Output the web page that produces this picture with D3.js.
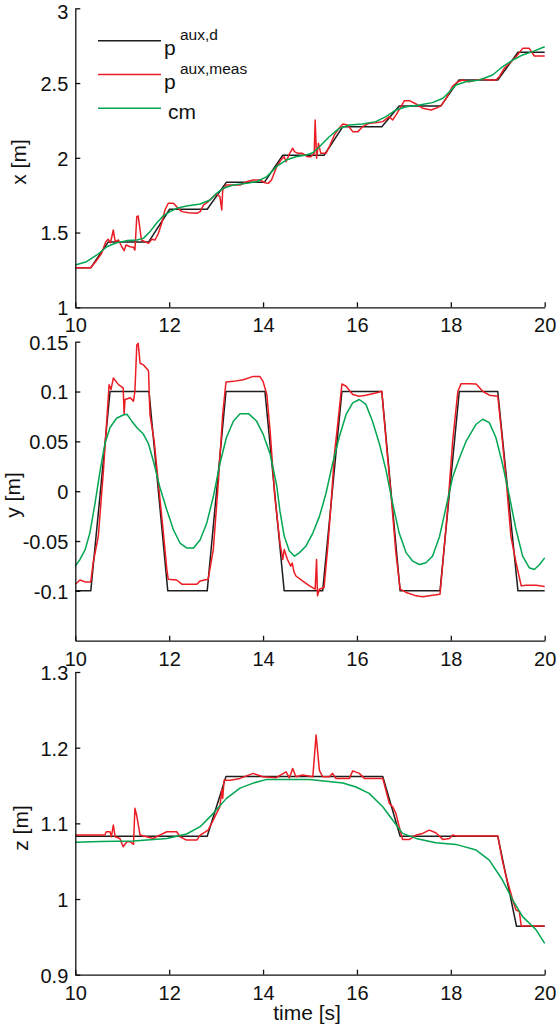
<!DOCTYPE html>
<html lang="en">
<head>
<meta charset="utf-8">
<title>aux position tracking</title>
<style>
  body { margin: 0; background: #fff; }
  svg { display: block; }
</style>
</head>
<body>
<svg id="chart"></svg>
<script src="https://d3js.org/d3.v7.min.js"></script>
<script>
// ---- data: [time s, value m] ----
const timeTicks = [10, 12, 14, 16, 18, 20];

const xTickValues = [1, 1.5, 2, 2.5, 3];
const xTickLabels = ['1', '1.5', '2', '2.5', '3'];
const yTickValues = [-0.1, -0.05, 0, 0.05, 0.1, 0.15];
const yTickLabels = ['-0.1', '-0.05', '0', '0.05', '0.1', '0.15'];
const zTickValues = [0.9, 1, 1.1, 1.2, 1.3];
const zTickLabels = ['0.9', '1', '1.1', '1.2', '1.3'];

const xDesired = [[10,1.265],[10.33,1.265],[10.70,1.436],[11.56,1.436],[12.01,1.656],[12.81,1.656],[13.22,1.837],
  [14.03,1.837],[14.42,2.017],[15.30,2.017],[15.70,2.208],[16.53,2.208],[16.90,2.347],[17.79,2.347],[18.17,2.520],
  [19.00,2.520],[19.43,2.706],[20,2.706]];
const xMeasured = [[10,1.265],[10.33,1.265],[10.46,1.316],[10.56,1.361],[10.65,1.439],[10.70,1.455],[10.75,1.432],
  [10.81,1.517],[10.85,1.439],[10.92,1.450],[10.99,1.405],[11.04,1.379],[11.08,1.417],[11.17,1.405],[11.24,1.401],
  [11.27,1.383],[11.31,1.606],[11.34,1.611],[11.38,1.517],[11.41,1.450],[11.48,1.439],[11.56,1.428],[11.63,1.455],
  [11.70,1.450],[11.77,1.495],[11.84,1.562],[11.91,1.651],[11.98,1.696],[12.09,1.696],[12.19,1.662],[12.27,1.640],
  [12.41,1.633],[12.59,1.629],[12.66,1.640],[12.73,1.684],[12.83,1.707],[12.94,1.740],[13.01,1.758],[13.08,1.740],
  [13.12,1.651],[13.14,1.785],[13.22,1.818],[13.51,1.818],[13.65,1.840],[13.79,1.852],[13.93,1.852],[14.04,1.833],
  [14.11,1.829],[14.18,1.852],[14.29,1.940],[14.38,1.985],[14.45,2.007],[14.49,1.974],[14.56,2.025],[14.63,2.064],
  [14.67,2.041],[14.74,2.030],[14.84,2.030],[14.95,2.007],[15.02,2.007],[15.09,2.030],[15.11,2.253],[15.14,1.997],
  [15.18,2.097],[15.23,2.030],[15.34,2.030],[15.41,2.074],[15.52,2.153],[15.62,2.197],[15.70,2.226],[15.80,2.219],
  [15.91,2.175],[16.02,2.175],[16.12,2.208],[16.26,2.231],[16.40,2.235],[16.55,2.242],[16.69,2.275],[16.76,2.253],
  [16.83,2.286],[16.94,2.342],[17.01,2.382],[17.12,2.382],[17.26,2.360],[17.40,2.331],[17.58,2.320],[17.68,2.331],
  [17.79,2.347],[17.90,2.398],[18.04,2.480],[18.15,2.509],[18.25,2.520],[18.39,2.509],[18.54,2.520],[18.68,2.525],
  [18.82,2.520],[18.96,2.520],[19.03,2.542],[19.14,2.599],[19.25,2.632],[19.32,2.654],[19.39,2.676],[19.53,2.732],
  [19.67,2.732],[19.78,2.681],[20,2.681]];
const xCom = [[10,1.283],[10.24,1.305],[10.46,1.350],[10.67,1.405],[10.88,1.432],[11.10,1.446],[11.31,1.450],
  [11.45,1.461],[11.59,1.506],[11.73,1.562],[11.87,1.611],[12.02,1.640],[12.16,1.662],[12.37,1.678],[12.66,1.691],
  [12.87,1.718],[13.01,1.763],[13.15,1.796],[13.37,1.818],[13.65,1.829],[13.86,1.840],[14.08,1.874],[14.22,1.918],
  [14.30,1.945],[14.49,1.985],[14.70,2.007],[14.92,2.019],[15.06,2.034],[15.20,2.074],[15.41,2.141],[15.62,2.197],
  [15.84,2.219],[16.12,2.226],[16.40,2.242],[16.62,2.275],[16.83,2.320],[17.05,2.342],[17.33,2.353],[17.61,2.369],
  [17.83,2.398],[17.97,2.442],[18.11,2.487],[18.32,2.509],[18.61,2.520],[18.89,2.554],[19.10,2.609],[19.32,2.654],
  [19.53,2.688],[19.74,2.710],[20,2.743]];

const yDesired = [[10,-0.1],[10.33,-0.1],[10.74,0.1],[11.57,0.1],[11.97,-0.1],[12.81,-0.1],[13.21,0.1],[14.04,0.1],
  [14.45,-0.1],[15.27,-0.1],[15.68,0.1],[16.53,0.1],[16.92,-0.1],[17.77,-0.1],[18.18,0.1],[19.0,0.1],[19.43,-0.1],[20,-0.1]];
const yMeasured = [[10,-0.0933],[10.10,-0.0891],[10.21,-0.0910],[10.33,-0.0910],[10.38,-0.0718],[10.49,-0.0454],
  [10.60,0.0209],[10.67,0.0705],[10.72,0.1069],[10.76,0.1020],[10.81,0.1135],[10.92,0.1069],[11.02,0.1036],
  [11.04,0.0772],[11.06,0.0920],[11.17,0.0937],[11.24,0.0904],[11.27,0.1003],[11.31,0.1466],[11.34,0.1483],
  [11.38,0.1284],[11.45,0.1268],[11.56,0.1208],[11.59,0.0772],[11.68,0.0506],[11.77,0.0076],[11.87,-0.0387],
  [11.95,-0.0785],[11.98,-0.0884],[12.16,-0.0891],[12.27,-0.0933],[12.59,-0.0933],[12.66,-0.0900],[12.83,-0.0884],
  [12.94,-0.0586],[13.05,0.0109],[13.14,0.0772],[13.21,0.1096],[13.37,0.1102],[13.58,0.1119],[13.79,0.1152],
  [13.93,0.1152],[14.0,0.1102],[14.08,0.0970],[14.15,0.0606],[14.25,-0.0056],[14.36,-0.0520],[14.42,-0.0685],
  [14.45,-0.0586],[14.52,-0.0685],[14.59,-0.0752],[14.62,-0.0720],[14.66,-0.0810],[14.70,-0.0851],[14.84,-0.0900],
  [14.99,-0.0950],[15.11,-0.0983],[15.14,-0.0685],[15.16,-0.1050],[15.20,-0.0983],[15.30,-0.0966],[15.38,-0.0553],
  [15.45,-0.0122],[15.52,0.0374],[15.59,0.0672],[15.68,0.1076],[15.77,0.1053],[15.91,0.0970],[16.05,0.0953],
  [16.19,0.0963],[16.40,0.0986],[16.53,0.1003],[16.56,0.0837],[16.62,0.0506],[16.73,-0.0056],[16.83,-0.0619],
  [16.92,-0.0983],[17.05,-0.1016],[17.26,-0.1050],[17.40,-0.1059],[17.61,-0.1043],[17.77,-0.1033],[17.83,-0.0718],
  [17.93,-0.0189],[18.04,0.0506],[18.15,0.1003],[18.22,0.1079],[18.39,0.1079],[18.54,0.1076],[18.68,0.1003],
  [18.82,0.0963],[19.0,0.0953],[19.07,0.0639],[19.18,0.0109],[19.28,-0.0454],[19.39,-0.0718],[19.50,-0.0950],
  [19.60,-0.0943],[19.82,-0.0943],[20,-0.0956]];
const yCom = [[10,-0.0752],[10.10,-0.0685],[10.21,-0.0586],[10.31,-0.0420],[10.42,-0.0122],[10.53,0.0209],
  [10.63,0.0474],[10.74,0.0639],[10.88,0.0732],[11.02,0.0765],[11.10,0.0772],[11.20,0.0705],[11.31,0.0639],
  [11.45,0.0573],[11.56,0.0474],[11.66,0.0308],[11.80,0.0043],[11.95,-0.0189],[12.09,-0.0387],[12.23,-0.0520],
  [12.37,-0.0569],[12.52,-0.0569],[12.66,-0.0487],[12.80,-0.0321],[12.94,-0.0056],[13.08,0.0275],[13.22,0.0539],
  [13.37,0.0705],[13.51,0.0778],[13.69,0.0778],[13.86,0.0705],[14.0,0.0573],[14.15,0.0374],[14.29,0.0060],
  [14.36,-0.0200],[14.45,-0.0450],[14.56,-0.0600],[14.67,-0.0652],[14.77,-0.0619],[14.91,-0.0553],[15.06,-0.0420],
  [15.20,-0.0255],[15.34,-0.0023],[15.48,0.0275],[15.62,0.0539],[15.77,0.0772],[15.91,0.0887],[16.05,0.0920],
  [16.19,0.0871],[16.33,0.0705],[16.48,0.0474],[16.62,0.0209],[16.76,-0.0122],[16.90,-0.0420],[17.05,-0.0619],
  [17.19,-0.0702],[17.33,-0.0735],[17.47,-0.0718],[17.61,-0.0652],[17.76,-0.0454],[17.90,-0.0156],[18.04,0.0142],
  [18.19,0.0341],[18.33,0.0506],[18.54,0.0672],[18.68,0.0722],[18.82,0.0688],[18.96,0.0539],[19.10,0.0275],
  [19.25,-0.0056],[19.39,-0.0387],[19.53,-0.0652],[19.67,-0.0768],[19.78,-0.0785],[19.89,-0.0735],[20,-0.0669]];

const zDesired = [[10,1.083],[12.81,1.083],[13.21,1.162],[16.55,1.162],[16.92,1.083],[19.0,1.083],[19.40,0.964],[20,0.964]];
const zMeasured = [[10,1.0845],[10.63,1.0845],[10.66,1.0889],[10.74,1.0889],[10.77,1.0823],[10.81,1.0978],
  [10.85,1.0823],[10.95,1.0800],[11.02,1.0690],[11.10,1.0757],[11.17,1.0757],[11.24,1.0723],[11.27,1.1198],
  [11.31,1.1100],[11.38,1.0845],[11.52,1.0823],[11.66,1.0800],[11.73,1.0823],[11.80,1.0845],[11.95,1.0889],
  [12.16,1.0889],[12.23,1.0823],[12.37,1.0779],[12.59,1.0779],[12.66,1.0845],[12.83,1.0911],[12.94,1.1044],
  [13.08,1.1220],[13.12,1.1440],[13.14,1.1330],[13.17,1.1570],[13.30,1.1570],[13.51,1.1594],[13.79,1.1660],
  [14.0,1.1616],[14.28,1.1603],[14.49,1.1680],[14.56,1.1600],[14.63,1.1726],[14.70,1.1616],[14.84,1.1638],
  [15.06,1.1616],[15.13,1.2166],[15.20,1.1700],[15.27,1.1616],[15.41,1.1616],[15.48,1.1660],[15.55,1.1594],
  [15.84,1.1594],[15.91,1.1693],[16.05,1.1660],[16.16,1.1594],[16.55,1.1594],[16.69,1.1264],[16.76,1.1220],
  [16.83,1.1132],[16.90,1.0956],[16.97,1.0788],[17.12,1.0788],[17.26,1.0845],[17.40,1.0867],[17.54,1.0911],
  [17.68,1.0876],[17.83,1.0788],[17.97,1.0801],[18.04,1.0845],[18.11,1.0832],[19.0,1.0832],[19.03,1.0736],
  [19.10,1.0500],[19.18,1.0295],[19.28,1.0075],[19.33,0.9965],[19.39,0.9855],[19.46,0.9833],[19.50,0.9643],[20,0.9643]];
const zCom = [[10,1.0749],[10.53,1.0760],[11.24,1.0766],[11.95,1.0801],[12.37,1.0859],[12.66,1.0956],[12.94,1.1132],
  [13.22,1.1330],[13.51,1.1466],[13.79,1.1532],[14.08,1.1581],[14.36,1.1581],[14.99,1.1581],[15.70,1.1532],
  [15.98,1.1480],[16.26,1.1396],[16.55,1.1220],[16.76,1.1044],[16.97,1.0868],[17.26,1.0801],[17.68,1.0744],
  [18.11,1.0722],[18.54,1.0647],[18.82,1.0515],[19.10,1.0251],[19.32,0.9987],[19.53,0.9767],[19.82,0.9590],[20,0.9415]];

const legendBase = ['p', 'p', 'cm'];
const legendSup = ['aux,d', 'aux,meas', ''];
const seriesColors = ['#1e1e1e', '#ec1c24', '#00a651'];

// ---- layout ----
const [width, height] = [556, 1034];
const font = "'Liberation Sans', Arial, Helvetica, sans-serif";

const svg = d3.select('#chart')
  .attr('width', width)
  .attr('height', height)
  .attr('font-family', font);

const t = d3.scaleLinear().domain([10, 20]).range([75.3, 544.7]);

const panels = [
  { label: 'x [m]', domain: [1, 3], top: 8.3, bottom: 307.3, ticks: xTickValues, tickText: xTickLabels,
    series: [xDesired, xMeasured, xCom], labelX: 26, labelY: 162 },
  { label: 'y [m]', domain: [-0.15, 0.15], top: 341.7, bottom: 640.7, ticks: yTickValues, tickText: yTickLabels,
    series: [yDesired, yMeasured, yCom], labelX: 20, labelY: 495 },
  { label: 'z [m]', domain: [0.9, 1.3], top: 672, bottom: 974.7, ticks: zTickValues, tickText: zTickLabels,
    series: [zDesired, zMeasured, zCom], labelX: 28, labelY: 828 }
];

panels.forEach(function(p, pi) {
  const y = d3.scaleLinear().domain(p.domain).range([p.bottom, p.top]);
  const g = svg.append('g');

  const line = d3.line()
    .x(function(d) { return t(d[0]) })
    .y(function(d) { return y(d[1]) });

  // black, then red, then green on top
  g.selectAll('path.series')
    .data(p.series)
    .enter()
    .append('path')
    .attr('class', 'series')
    .attr('d', line)
    .attr('fill', 'none')
    .attr('stroke', function(d, i) { return seriesColors[i] })
    .attr('stroke-width', 1.5)
    .attr('stroke-linejoin', 'round');

  const xAxis = g.append('g')
    .attr('transform', 'translate(0,' + p.bottom + ')')
    .call(d3.axisBottom(t).tickValues(timeTicks).tickFormat(d3.format('d'))
      .tickSizeInner(-5).tickSizeOuter(0).tickPadding(11));

  const yAxis = g.append('g')
    .attr('transform', 'translate(' + t(10) + ',0)')
    .call(d3.axisLeft(y).tickValues(p.ticks)
      .tickFormat(function(d, i) { return p.tickText[i] })
      .tickSizeInner(-5).tickSizeOuter(0).tickPadding(7));
  yAxis.selectAll('text').attr('dy', '0.37em');
  // the very top label sits at the page edge; nudge it inside
  if (pi === 0) {
    yAxis.selectAll('.tick text').filter(function(d) { return d === p.domain[1] }).attr('dy', '0.5em');
  }

  [xAxis, yAxis].forEach(function(a) {
    a.attr('font-family', font).attr('font-size', 20);
    a.selectAll('path, line').attr('stroke', '#111').attr('stroke-width', 1.3);
    a.selectAll('text').attr('fill', '#111');
  });

  g.append('text')
    .attr('transform', 'translate(' + p.labelX + ',' + p.labelY + ') rotate(-90)')
    .attr('text-anchor', 'middle')
    .attr('font-size', 21)
    .attr('fill', '#111')
    .text(p.label);
});

svg.append('text')
  .attr('x', 307)
  .attr('y', 1019.5)
  .attr('text-anchor', 'middle')
  .attr('font-size', 21)
  .attr('fill', '#111')
  .text('time [s]');

// legend
const legend = svg.append('g')
  .selectAll('g')
  .data(legendBase)
  .enter()
  .append('g')
  .attr('transform', function(d, i) { return 'translate(0,' + (40.7 + i * 33.8) + ')' });

legend.append('line')
  .attr('x1', 98).attr('x2', 161)
  .attr('stroke', function(d, i) { return seriesColors[i] })
  .attr('stroke-width', 1.5);

legend.append('text')
  .attr('x', function(d, i) { return legendSup[i] ? 164 : 168 })
  .attr('y', function(d, i) { return legendSup[i] ? 14.3 : 10.7 })
  .attr('font-size', 21)
  .attr('fill', '#111')
  .text(function(d) { return d });

legend.append('text')
  .attr('x', 180)
  .attr('y', -0.8)
  .attr('font-size', 15.5)
  .attr('fill', '#111')
  .text(function(d, i) { return legendSup[i] });
</script>
</body>
</html>
